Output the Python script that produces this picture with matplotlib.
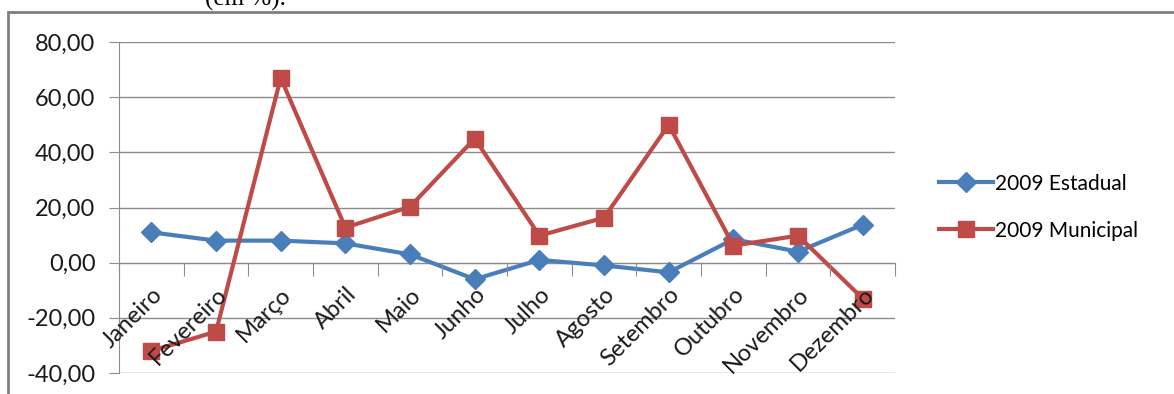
import matplotlib
matplotlib.use("Agg")
import matplotlib.pyplot as plt
from matplotlib.patches import Rectangle
from matplotlib.ticker import FuncFormatter, FixedLocator

BLUE = "#4A7EBB"
RED = "#BE4B48"
GRID = "#8C8C8C"
INK = "#1a1a1a"

months = ["Janeiro", "Fevereiro", "Março", "Abril", "Maio", "Junho",
          "Julho", "Agosto", "Setembro", "Outubro", "Novembro", "Dezembro"]
estadual = [11.0, 8.0, 8.0, 7.0, 3.0, -6.0, 1.0, -1.0, -3.5, 8.5, 4.0, 13.8]
municipal = [-32.0, -25.0, 67.0, 12.7, 20.3, 45.0, 9.8, 16.3, 50.0, 6.2, 9.8, -13.0]
yticks = [-40, -20, 0, 20, 40, 60, 80]

plt.rcParams["font.family"] = ["Lato", "DejaVu Sans"]

fig = plt.figure(figsize=(11.74, 3.94), dpi=100, facecolor="white")
ax = fig.add_axes([0.1014, 0.0533, 0.661, 0.840])

x = list(range(len(months)))
# gridlines below the series; axis text (zorder 2.5) sits above them, as in Excel
for t in yticks:
    ax.axhline(t, color=GRID, lw=1, zorder=0.5)
ax.plot(x, estadual, color=BLUE, lw=3, marker="D", ms=10, mec=BLUE, mfc=BLUE,
        label="2009 Estadual", zorder=2)
ax.plot(x, municipal, color=RED, lw=3, marker="s", ms=11, mec=RED, mfc=RED,
        label="2009 Municipal", zorder=2.1)
ax.set_axisbelow(False)

ax.set_xlim(-0.5, 11.5)
ax.set_ylim(-40, 80)
ax.set_yticks(yticks)
ax.yaxis.set_major_formatter(FuncFormatter(lambda v, p: f"{v:.2f}".replace(".", ",")))

# category axis crosses at zero, ticks between categories
ax.spines["bottom"].set_position(("data", 0))
for s in ("top", "right"):
    ax.spines[s].set_visible(False)
ax.spines["left"].set_color(GRID)
ax.spines["bottom"].set_color(GRID)
ax.spines["left"].set_zorder(0.6)
ax.spines["bottom"].set_zorder(0.6)
ax.xaxis.set_major_locator(FixedLocator([i - 0.5 for i in range(13)]))
ax.xaxis.set_major_formatter(FuncFormatter(lambda v, p: ""))
ax.xaxis.set_minor_locator(FixedLocator(x))
ax.set_xticklabels(months, minor=True, rotation=45, ha="right", rotation_mode="anchor",
                   fontsize=17, color=INK)
ax.tick_params(axis="x", which="major", direction="out", length=9, color=GRID)
ax.tick_params(axis="x", which="minor", length=0, pad=15)
ax.tick_params(axis="y", length=7, color=GRID, labelsize=17, labelcolor=INK, pad=10)

fig.legend(loc="center left", bbox_to_anchor=(0.784, 0.474), frameon=False,
           fontsize=15, handlelength=2.6, handletextpad=0.1, labelspacing=1.3)

# outer chart frame and clipped caption above it
fig.patches.append(Rectangle((0.0068, -0.2), 1.2, 0.9695 + 0.2, transform=fig.transFigure,
                             fill=False, edgecolor="#7f7f7f", lw=2))
fig.text(0.2087, 0.985, "(em %).", ha="center", va="baseline", fontsize=18,
         family="Liberation Serif", color="black")

fig.savefig("out.png", dpi=100, facecolor="white")
